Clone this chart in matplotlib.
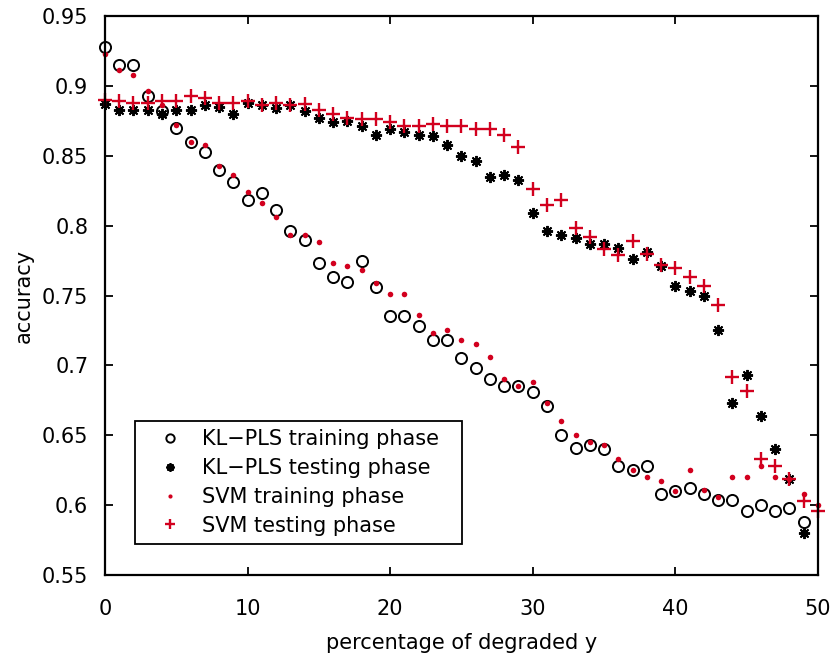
import matplotlib
matplotlib.use("Agg")
import matplotlib.pyplot as plt

plt.rcParams['font.family'] = ['DejaVu Sans']

# x positions (percentage of degraded y)
x_kl = list(range(0, 50))
x_svm = list(range(0, 51))

kl_train = [0.928, 0.915, 0.915, 0.893, 0.882, 0.870, 0.860, 0.853, 0.840, 0.831,
            0.818, 0.823, 0.811, 0.796, 0.790, 0.773, 0.763, 0.760, 0.775, 0.756,
            0.735, 0.735, 0.728, 0.718, 0.718, 0.705, 0.698, 0.690, 0.685, 0.685,
            0.681, 0.671, 0.650, 0.641, 0.643, 0.640, 0.628, 0.625, 0.628, 0.608,
            0.610, 0.612, 0.608, 0.604, 0.604, 0.596, 0.600, 0.596, 0.598, 0.588]

kl_test = [0.887, 0.883, 0.883, 0.883, 0.880, 0.883, 0.883, 0.886, 0.885, 0.880,
           0.888, 0.886, 0.884, 0.886, 0.882, 0.877, 0.874, 0.875, 0.871, 0.865,
           0.869, 0.867, 0.865, 0.864, 0.858, 0.850, 0.846, 0.835, 0.836, 0.833,
           0.809, 0.796, 0.793, 0.791, 0.787, 0.787, 0.784, 0.776, 0.781, 0.771,
           0.757, 0.753, 0.750, 0.725, 0.673, 0.693, 0.664, 0.640, 0.619, 0.580]

svm_train = [0.923, 0.911, 0.908, 0.896, 0.886, 0.872, 0.860, 0.858, 0.843, 0.836,
             0.824, 0.816, 0.806, 0.793, 0.793, 0.788, 0.773, 0.771, 0.768, 0.759,
             0.751, 0.751, 0.736, 0.723, 0.725, 0.718, 0.715, 0.706, 0.690, 0.685,
             0.688, 0.673, 0.660, 0.650, 0.645, 0.643, 0.633, 0.625, 0.620, 0.617,
             0.610, 0.625, 0.611, 0.606, 0.620, 0.620, 0.628, 0.620, 0.619, 0.608,
             0.600]

svm_test = [0.890, 0.889, 0.888, 0.888, 0.889, 0.889, 0.893, 0.891, 0.888, 0.888,
            0.889, 0.886, 0.888, 0.886, 0.887, 0.883, 0.880, 0.877, 0.876, 0.876,
            0.874, 0.871, 0.871, 0.873, 0.871, 0.871, 0.869, 0.869, 0.865, 0.856,
            0.826, 0.815, 0.818, 0.798, 0.792, 0.783, 0.779, 0.789, 0.780, 0.772,
            0.770, 0.763, 0.757, 0.743, 0.692, 0.682, 0.633, 0.628, 0.619, 0.603,
            0.596]

red = '#d2001e'

fig = plt.figure(figsize=(8.37, 6.55), dpi=100)
ax = fig.add_axes([0.1254, 0.1221, 0.8518, 0.8535])

ax.plot(x_kl, kl_train, 'o', mfc='none', mec='black', ms=8, mew=1.4,
        linestyle='none', clip_on=False, label='KL\u2212PLS training phase')
ax.plot(x_kl, kl_test, marker=(8, 2, 0), color='black', ms=8, mew=1.4,
        linestyle='none', clip_on=False, label='KL\u2212PLS testing phase')
ax.plot(x_svm, svm_train, 'o', color=red, ms=4, mew=0,
        linestyle='none', clip_on=False, label='SVM training phase')
ax.plot(x_svm, svm_test, '+', color=red, ms=10, mew=1.7,
        linestyle='none', clip_on=False, label='SVM testing phase')

ax.set_xlim(0, 50)
ax.set_ylim(0.55, 0.95)
ax.set_xticks([0, 10, 20, 30, 40, 50])
ax.set_yticks([0.55, 0.6, 0.65, 0.7, 0.75, 0.8, 0.85, 0.9, 0.95])
ax.set_yticklabels(['0.55', '0.6', '0.65', '0.7', '0.75', '0.8', '0.85', '0.9', '0.95'])
ax.tick_params(direction='in', length=6, width=1.3, top=True, right=True,
               labelsize=15)
ax.tick_params(axis='y', pad=12)
ax.tick_params(axis='x', pad=17)
for s in ax.spines.values():
    s.set_linewidth(1.6)

ax.set_xlabel('percentage of degraded y', fontsize=15, labelpad=10)
ax.set_ylabel('accuracy', fontsize=15, labelpad=6)

# legend box stretched to the width used in the original figure
leg = ax.legend(loc='lower left', bbox_to_anchor=(0.042, 0.0555, 0.4586, 0.2),
                mode='expand', borderaxespad=0,
                fontsize=15, fancybox=False, edgecolor='black', framealpha=1,
                handlelength=2.6, handletextpad=0.2, labelspacing=0.42,
                borderpad=0.4, markerscale=0.75)
leg.get_frame().set_linewidth(1.3)

fig.savefig('out.png', dpi=100)
